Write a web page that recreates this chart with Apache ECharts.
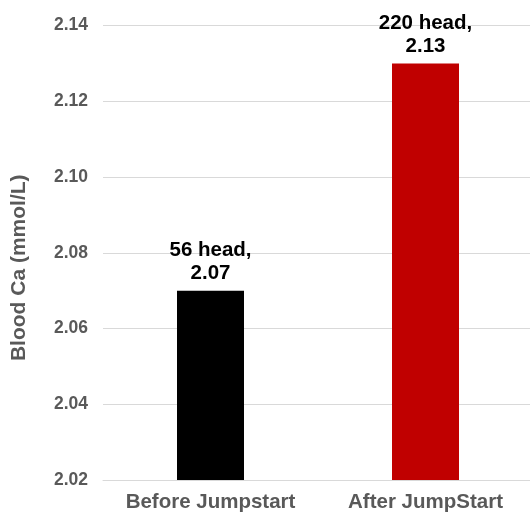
<!DOCTYPE html>
<html><head><meta charset="utf-8">
<script src="https://cdn.jsdelivr.net/npm/echarts@6/dist/echarts.min.js"></script>
<style>html,body{margin:0;padding:0;background:#fff}#c{width:530px;height:517px}</style>
</head><body><div id="c"></div>
<script>
var categories = ['Before Jumpstart', 'After JumpStart'];
var values = [2.07, 2.13];
var heads = [56, 220];
var colors = ['#000000', '#C00000'];
var yTicks = [2.02, 2.04, 2.06, 2.08, 2.10, 2.12, 2.14];

var FONT = 'Liberation Sans, Arial, sans-serif';
var chart = echarts.init(document.getElementById('c'));
chart.setOption({
  animation: false,
  grid: {left: 103, right: -3, top: 25.5, bottom: 37, containLabel: false, outerBoundsMode: 'none'},
  xAxis: {
    type: 'category', data: categories,
    axisLine: {lineStyle: {color: '#d9d9d9'}},
    axisTick: {show: false},
    axisLabel: {interval: 0, hideOverlap: false, color: '#595959', fontFamily: FONT, fontWeight: 'bold', fontSize: 20.5, margin: 12}
  },
  yAxis: {
    type: 'value', min: yTicks[0], max: yTicks[yTicks.length-1], interval: 0.02,
    name: 'Blood Ca (mmol/L)', nameLocation: 'middle', nameGap: 73,
    nameTextStyle: {color: '#595959', fontFamily: FONT, fontWeight: 'bold', fontSize: 21, padding: [0, 30, 0, 0]},
    axisLine: {show: false}, axisTick: {show: false},
    splitLine: {lineStyle: {color: '#d9d9d9', width: 1}},
    axisLabel: {color: '#595959', fontFamily: FONT, fontWeight: 'bold', fontSize: 17.5, margin: 15,
      formatter: function(v){ return v.toFixed(2); }}
  },
  series: [{
    type: 'bar', barWidth: 67,
    data: values.map(function(v, i){ return {value: v, itemStyle: {color: colors[i]}}; }),
    label: {
      show: true, position: 'top', distance: 6, color: '#000', fontFamily: FONT,
      fontWeight: 'bold', fontSize: 20.5, lineHeight: 23,
      formatter: function(p){ return heads[p.dataIndex] + ' head,\n' + p.value.toFixed(2); }
    }
  }]
});
</script></body></html>
